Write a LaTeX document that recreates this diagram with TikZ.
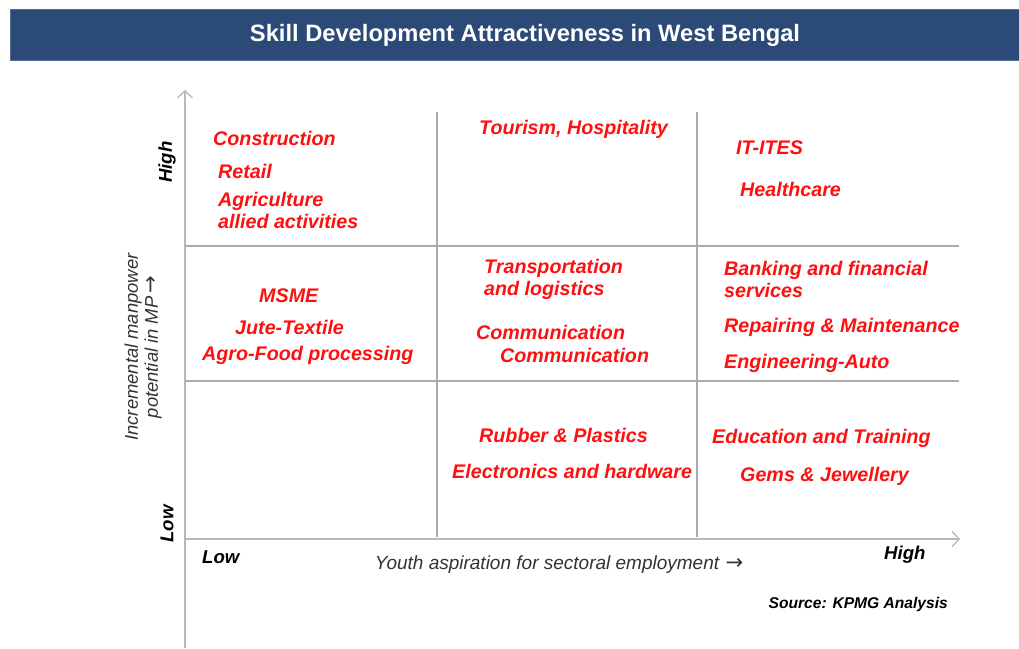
\documentclass[tikz,border=0pt]{standalone}
\usepackage{fontspec}
\setmainfont{Liberation Sans}
\newfontfamily\arrowfont{DejaVu Sans}
\usetikzlibrary{arrows.meta}
\definecolor{barblue}{HTML}{2C4A77}
\definecolor{axisgray}{HTML}{B8B8B8}
\definecolor{gridgray}{HTML}{ABABAB}
\definecolor{lblred}{HTML}{FF1010}
\definecolor{axtext}{HTML}{333333}
\tikzset{
  lbl/.style={font=\fontsize{19.7}{22}\selectfont\bfseries\itshape, text=lblred, anchor=west, inner sep=0pt, align=left},
  lvl/.style={font=\fontsize{18.6}{20}\selectfont\bfseries\itshape, text=black, inner sep=0pt},
  axisline/.style={draw=axisgray, line width=2.2pt, -{Straight Barb[length=7pt,width=15pt,line width=1.3pt]}},
  gridline/.style={draw=gridgray, line width=1.4pt},
}
\newcommand{\bigarrow}{{\arrowfont\fontsize{21}{20}\selectfont →}}
\begin{document}
\begin{tikzpicture}[x=1pt,y=-1pt]
\useasboundingbox (0,0) rectangle (1019,648);
\fill[white] (0,0) rectangle (1019,648);
% title bar
\node[fill=barblue, draw=barblue!80!white, line width=0.8pt, minimum width=1011pt, minimum height=51pt, inner sep=0pt, anchor=north west] (bar) at (10,9) {};
\node[font=\fontsize{23.7}{26}\selectfont\bfseries, text=white] (title) at (525,35) {Skill Development Attractiveness in West Bengal};
% axes and grid
\coordinate (yb) at (185,648);
\coordinate (yt) at (185,90);
\coordinate (xl) at (185,539);
\coordinate (xr) at (960,539);
\coordinate (h1l) at (185,246); \coordinate (h1r) at (959,246);
\coordinate (h2l) at (185,381); \coordinate (h2r) at (959,381);
\coordinate (v1t) at (437,112); \coordinate (v1b) at (437,537);
\coordinate (v2t) at (697,112); \coordinate (v2b) at (697,537);
\draw[gridline] (h1l) -- (h1r);
\draw[gridline] (h2l) -- (h2r);
\draw[gridline] (v1t) -- (v1b);
\draw[gridline] (v2t) -- (v2b);
\draw[axisline] (yb) -- (yt);
\draw[axisline] (xl) -- (xr);
% axis labels
\node[lvl, rotate=90] (yhigh) at (167,162) {High};
\node[lvl, rotate=90] (ylow) at (167,524) {Low};
\node[lvl, anchor=west] (xlow) at (202,557) {Low};
\node[lvl, anchor=west] (xhigh) at (884,555) {High};
\node[font=\fontsize{18.4}{20}\selectfont\itshape, text=axtext, rotate=90, align=center, inner sep=0pt] (ytitle) at (143,347) {Incremental manpower\\potential in MP\,\bigarrow};
\node[font=\fontsize{19}{20}\selectfont\itshape, text=axtext, inner sep=0pt] (xtitle) at (559,565) {Youth aspiration for sectoral employment\,\,\bigarrow};
\node[font=\fontsize{15.6}{18}\selectfont\bfseries\itshape, text=black, inner sep=0pt, anchor=east] (src) at (948,604) {Source: KPMG Analysis};
% sector labels
\node[lbl] (construction) at (213,138) {Construction};
\node[lbl] (retail) at (218,171) {Retail};
\node[lbl] (agri) at (218,210) {Agriculture\\allied activities};
\node[lbl] (tourism) at (479,129) {Tourism, Hospitality};
\node[lbl] (it) at (736,148) {IT-ITES};
\node[lbl] (health) at (740,189) {Healthcare};
\node[lbl] (msme) at (259,296) {MSME};
\node[lbl] (jute) at (235,327) {Jute-Textile};
\node[lbl] (agro) at (202,355) {Agro-Food processing};
\node[lbl] (transport) at (484,279) {Transportation\\and logistics};
\node[lbl] (comm1) at (476,332) {Communication};
\node[lbl] (comm2) at (500,355) {Communication};
\node[lbl] (bank) at (724,279) {Banking and financial\\services};
\node[lbl] (repair) at (724,327) {Repairing \& Maintenance};
\node[lbl] (engg) at (724,363) {Engineering-Auto};
\node[lbl] (rubber) at (479,435) {Rubber \& Plastics};
\node[lbl] (electronics) at (452,471) {Electronics and hardware};
\node[lbl] (education) at (712,438) {Education and Training};
\node[lbl] (gems) at (740,476) {Gems \& Jewellery};
\end{tikzpicture}
\end{document}
